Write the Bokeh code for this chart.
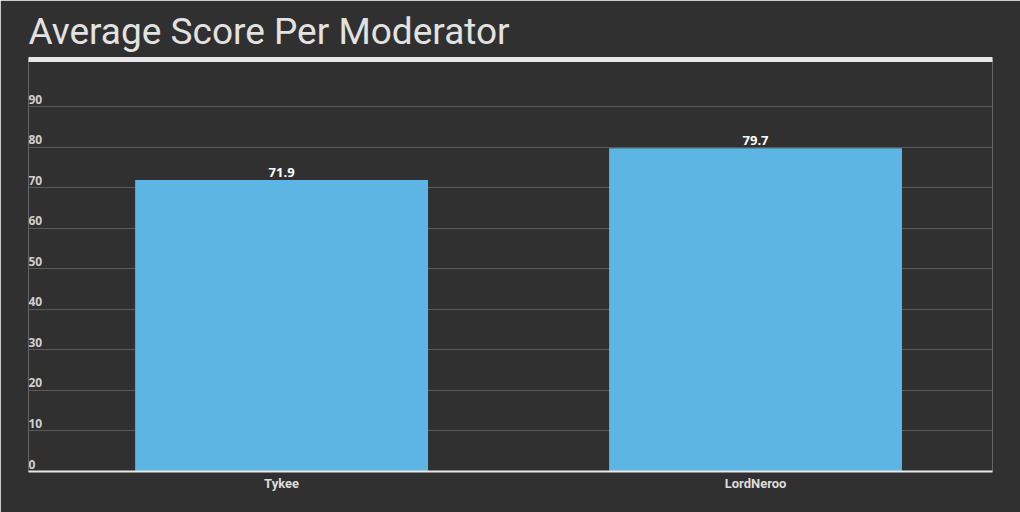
from bokeh.plotting import figure
from bokeh.models import Range1d, FixedTicker, LinearAxis, ColumnDataSource
from bokeh.core.properties import value
from bokeh.embed import file_html
from bokeh.resources import INLINE

moderators = ["Tykee", "LordNeroo"]
scores = [71.9, 79.7]
y_ticks = [0, 10, 20, 30, 40, 50, 60, 70, 80, 90]
y_tick_labels = [str(t) for t in y_ticks]

BG = "#303030"
BAR = "#5db5e3"

xs = [i + 0.5 for i in range(len(moderators))]
x_start = -0.034

p = figure(width=1020, height=512,
           x_range=Range1d(x_start, len(moderators)),
           y_range=Range1d(0, 101.6),
           output_backend="svg", toolbar_location=None,
           y_axis_location=None, x_axis_location=None,
           background_fill_color=BG, border_fill_color=BG,
           outline_line_color=None,
           min_border_left=28, min_border_right=28,
           min_border_bottom=41, min_border_top=10)

p.title.text = "Average Score Per Moderator"
p.title.text_font = "Roboto"
p.title.text_font_size = "37px"
p.title.text_font_style = "normal"
p.title.text_color = "#e2e2e2"
p.title.standoff = 14

# rule under title
rule = LinearAxis(ticker=FixedTicker(ticks=[]))
rule.axis_line_color = "#e8e8e8"
rule.axis_line_width = 5
rule.major_tick_line_color = None
rule.minor_tick_line_color = None
p.add_layout(rule, "above")

src = ColumnDataSource(dict(x=xs, top=scores, name=moderators,
                            lab=[f"{v}" for v in scores]))
p.vbar(x="x", top="top", width=0.618, source=src, color=BAR, line_color=None)

p.text(x="x", y="top", text="lab", source=src,
       text_align="center", text_baseline="bottom", y_offset=-3,
       text_font=value("Open Sans"), text_font_style="bold",
       text_font_size="13px", text_color="#ffffff")

# y tick labels
p.text(x=[x_start] * len(y_ticks), y=y_ticks, text=y_tick_labels,
       text_align="left", text_baseline="bottom", y_offset=-3,
       text_font=value("Open Sans"), text_font_style="bold",
       text_font_size="12px", text_color="#d0d0d0")

p.xgrid.grid_line_color = None
p.ygrid.ticker = FixedTicker(ticks=y_ticks)
p.ygrid.grid_line_color = "#5a5a5a"
p.ygrid.grid_line_width = 1

xa = LinearAxis(ticker=FixedTicker(ticks=xs))
xa.major_label_overrides = dict(zip(xs, moderators))
xa.axis_line_color = "#e8e8e8"
xa.axis_line_width = 2
xa.major_tick_line_color = None
xa.minor_tick_line_color = None
xa.major_tick_out = 0
xa.major_tick_in = 0
xa.major_label_text_font = "Roboto"
xa.major_label_text_font_style = "bold"
xa.major_label_text_font_size = "13px"
xa.major_label_text_color = "#dddddd"
xa.major_label_standoff = 4
p.add_layout(xa, "below")

open("out.html", "w").write(file_html(p, INLINE))
